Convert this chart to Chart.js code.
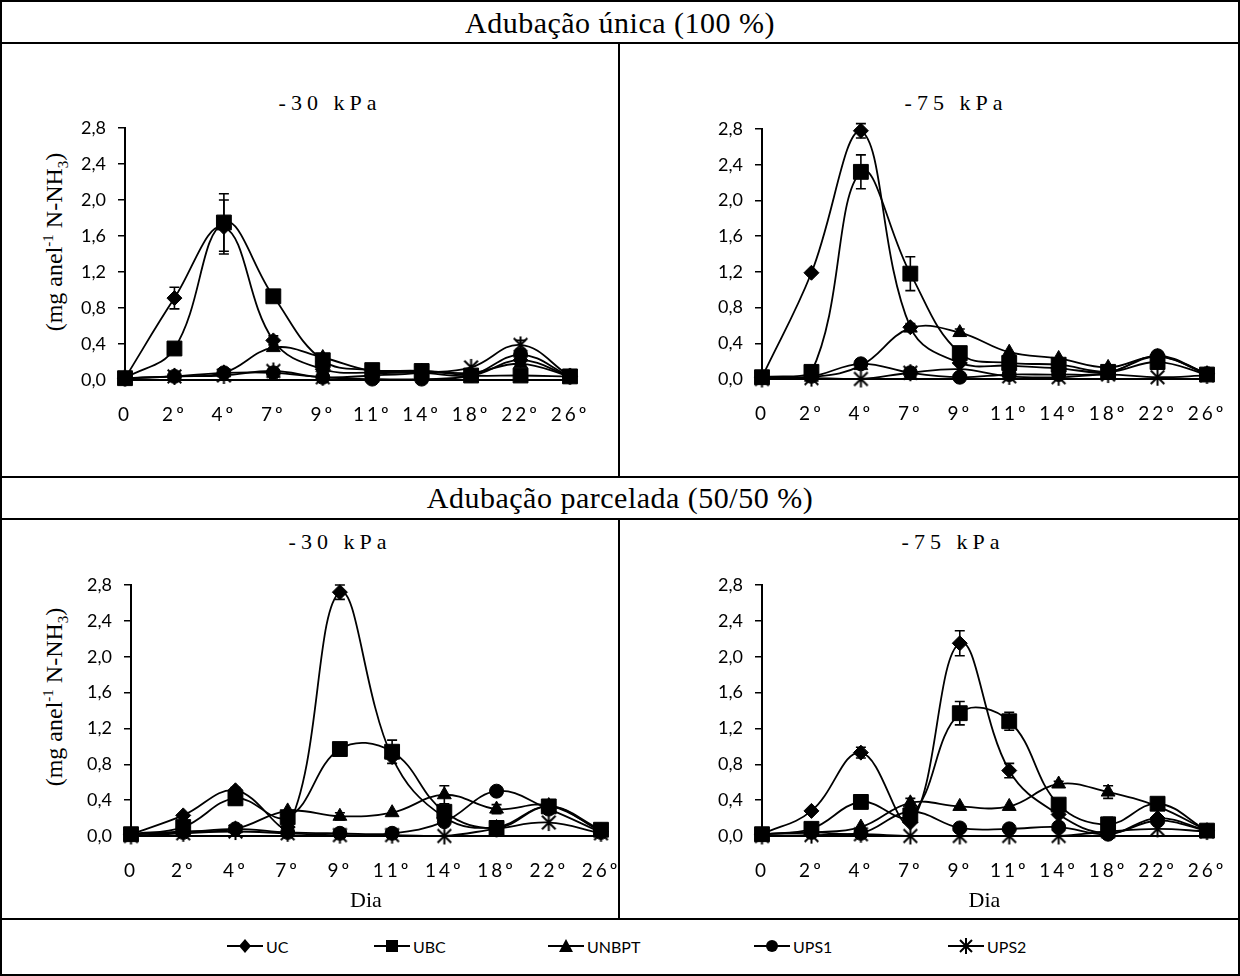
<!DOCTYPE html>
<html>
<head>
<meta charset="utf-8">
<script src="https://cdn.jsdelivr.net/npm/chart.js@4.4.1/dist/chart.umd.min.js"></script>
<style>
  body { margin: 0; background: #fff; }
  #fig { position: relative; width: 1240px; height: 976px; font-family: "Liberation Serif", serif; color: #000; }
  .frame { position: absolute; left: 0; top: 0; width: 1240px; height: 976px; border: 2px solid #000; box-sizing: border-box; }
  .ln { position: absolute; background: #000; }
  .head { position: absolute; left: 0; width: 1240px; text-align: center; font-size: 30px; line-height: 38px; letter-spacing: 0.5px; }
  .sub { position: absolute; font-size: 22px; letter-spacing: 5px; white-space: nowrap; transform: translate(-50%, -50%); }
  .ytitle { position: absolute; font-size: 24px; white-space: nowrap; transform: translate(-50%, -50%) rotate(-90deg); }
  .ytitle sup, .ytitle sub { font-size: 15px; }
  canvas { position: absolute; }
  .leg { position: absolute; top: 937px; height: 18px; display: flex; align-items: center; font-family: Lato, sans-serif; font-size: 16px; }
  .leg svg { margin-right: 3px; }
</style>
</head>
<body>
<div id="fig">
  <div class="frame"></div>
  <div class="ln" style="left:0;top:42px;width:1240px;height:2px"></div>
  <div class="ln" style="left:0;top:476px;width:1240px;height:2px"></div>
  <div class="ln" style="left:0;top:518px;width:1240px;height:2px"></div>
  <div class="ln" style="left:0;top:918px;width:1240px;height:2px"></div>
  <div class="ln" style="left:618px;top:42px;width:2px;height:436px"></div>
  <div class="ln" style="left:618px;top:518px;width:2px;height:402px"></div>

  <div class="head" style="top:4px">Adubação única (100 %)</div>
  <div class="head" style="top:479px">Adubação parcelada (50/50 %)</div>

  <div class="sub" style="left:330px;top:103px">-30 kPa</div>
  <div class="sub" style="left:956px;top:103px">-75 kPa</div>
  <div class="sub" style="left:340px;top:542px">-30 kPa</div>
  <div class="sub" style="left:953px;top:542px">-75 kPa</div>

  <div class="ytitle" style="left:56px;top:242px">(mg anel<sup>-1</sup> N-NH<sub>3</sub>)</div>
  <div class="ytitle" style="left:56px;top:697px">(mg anel<sup>-1</sup> N-NH<sub>3</sub>)</div>

  <canvas id="c1" width="630" height="400" style="left:3px;top:60px"></canvas>
  <canvas id="c2" width="616" height="400" style="left:621px;top:60px"></canvas>
  <canvas id="c3" width="630" height="385" style="left:3px;top:530px"></canvas>
  <canvas id="c4" width="616" height="385" style="left:621px;top:530px"></canvas>
  <div id="legend"></div>
</div>

<script>
const days = ['0', '2º', '4º', '7º', '9º', '11º', '14º', '18º', '22º', '26º'];
const yTickValues = [0, 0.4, 0.8, 1.2, 1.6, 2.0, 2.4, 2.8];
const yTickLabels = ['0,0', '0,4', '0,8', '1,2', '1,6', '2,0', '2,4', '2,8'];
const seriesNames = ['UC', 'UBC', 'UNBPT', 'UPS1', 'UPS2'];

// Adubação única (100 %), -30 kPa
const unica30UC    = [0.02, 0.91, 1.70, 0.44, 0.12, 0.08, 0.08, 0.05, 0.22, 0.04];
const unica30UBC   = [0.02, 0.35, 1.75, 0.93, 0.22, 0.11, 0.10, 0.05, 0.05, 0.04];
const unica30UNBPT = [0.02, 0.04, 0.08, 0.36, 0.25, 0.10, 0.10, 0.08, 0.18, 0.04];
const unica30UPS1  = [0.02, 0.04, 0.08, 0.08, 0.03, 0.01, 0.01, 0.05, 0.28, 0.04];
const unica30UPS2  = [0.02, 0.04, 0.05, 0.10, 0.03, 0.05, 0.08, 0.14, 0.39, 0.04];
const unica30UCErr  = [0, 0.12, 0.30, 0.05, 0, 0, 0, 0, 0.03, 0];
const unica30UBCErr = [0, 0, 0.32, 0, 0.05, 0, 0, 0, 0, 0];
const unica30UPS2Err = [0, 0, 0, 0, 0, 0, 0, 0, 0.05, 0];

// Adubação única (100 %), -75 kPa
const unica75UC    = [0.02, 1.19, 2.78, 0.58, 0.18, 0.15, 0.12, 0.08, 0.25, 0.06];
const unica75UBC   = [0.02, 0.08, 2.32, 1.18, 0.29, 0.18, 0.16, 0.08, 0.19, 0.05];
const unica75UNBPT = [0.02, 0.02, 0.15, 0.57, 0.52, 0.30, 0.23, 0.13, 0.25, 0.06];
const unica75UPS1  = [0.02, 0.03, 0.17, 0.07, 0.02, 0.05, 0.05, 0.07, 0.26, 0.06];
const unica75UPS2  = [0.00, 0.01, 0.00, 0.07, 0.11, 0.03, 0.02, 0.05, 0.02, 0.04];
const unica75UCErr    = [0, 0.02, 0.08, 0.04, 0, 0, 0, 0, 0, 0];
const unica75UBCErr   = [0, 0, 0.19, 0.19, 0, 0, 0, 0, 0, 0];
const unica75UNBPTErr = [0, 0, 0, 0, 0.04, 0, 0, 0, 0, 0];

// Adubação parcelada (50/50 %), -30 kPa
const parc30UC    = [0.02, 0.23, 0.51, 0.10, 2.72, 0.88, 0.21, 0.10, 0.33, 0.05];
const parc30UBC   = [0.02, 0.10, 0.42, 0.21, 0.97, 0.94, 0.27, 0.09, 0.33, 0.07];
const parc30UNBPT = [0.02, 0.05, 0.08, 0.28, 0.22, 0.26, 0.46, 0.30, 0.34, 0.06];
const parc30UPS1  = [0.02, 0.04, 0.08, 0.04, 0.03, 0.03, 0.16, 0.50, 0.30, 0.04];
const parc30UPS2  = [0.00, 0.03, 0.05, 0.03, 0.01, 0.01, 0.00, 0.08, 0.15, 0.03];
const parc30UCErr    = [0, 0, 0.03, 0, 0.08, 0, 0, 0, 0, 0];
const parc30UBCErr   = [0, 0, 0.07, 0, 0.05, 0.13, 0, 0, 0, 0];
const parc30UNBPTErr = [0, 0, 0, 0, 0.04, 0, 0.10, 0.05, 0, 0];

// Adubação parcelada (50/50 %), -75 kPa
const parc75UC    = [0.02, 0.28, 0.93, 0.15, 2.15, 0.73, 0.24, 0.03, 0.20, 0.06];
const parc75UBC   = [0.02, 0.08, 0.38, 0.23, 1.37, 1.28, 0.35, 0.13, 0.36, 0.06];
const parc75UNBPT = [0.02, 0.04, 0.10, 0.37, 0.33, 0.33, 0.58, 0.49, 0.33, 0.06];
const parc75UPS1  = [0.02, 0.04, 0.03, 0.27, 0.09, 0.08, 0.10, 0.02, 0.17, 0.06];
const parc75UPS2  = [0.00, 0.01, 0.02, 0.00, 0.00, 0.00, 0.00, 0.05, 0.08, 0.05];
const parc75UCErr    = [0, 0, 0.06, 0, 0.14, 0.08, 0, 0, 0, 0];
const parc75UBCErr   = [0, 0, 0, 0, 0.13, 0.10, 0, 0.08, 0, 0];
const parc75UNBPTErr = [0, 0, 0, 0.05, 0, 0, 0.03, 0.07, 0, 0];

// Excel style star: an X plus a vertical bar
function starMarker(size) {
  const c = document.createElement('canvas');
  c.width = c.height = size;
  const g = c.getContext('2d');
  const m = size / 2, r = size / 2 - 1, d = r * 0.8;
  g.strokeStyle = '#000';
  g.lineWidth = 2;
  g.beginPath();
  g.moveTo(m, m - r); g.lineTo(m, m + r);
  g.moveTo(m - d, m - d); g.lineTo(m + d, m + d);
  g.moveTo(m + d, m - d); g.lineTo(m - d, m + d);
  g.stroke();
  return c;
}
const markers = ['rectRot', 'rect', 'triangle', 'circle', starMarker(19)];
const radii = [7.5, 10.5, 8, 7, 9];

// error bars; x tick labels (layer z=1) get the wide letter spacing
const extras = {
  id: 'extras',
  beforeDraw(chart) { chart.ctx.letterSpacing = '0px'; },
  afterDatasetsDraw(chart) {
    const ctx = chart.ctx, y = chart.scales.y;
    ctx.save();
    ctx.strokeStyle = '#000';
    ctx.lineWidth = 1.6;
    chart.data.datasets.forEach((ds, di) => {
      if (!ds.errorBars) return;
      const meta = chart.getDatasetMeta(di);
      ds.errorBars.forEach((e, i) => {
        if (!e) return;
        const px = meta.data[i].x;
        const top = y.getPixelForValue(ds.data[i] + e);
        const bot = y.getPixelForValue(ds.data[i] - e);
        ctx.beginPath();
        ctx.moveTo(px, top); ctx.lineTo(px, bot);
        ctx.moveTo(px - 5, top); ctx.lineTo(px + 5, top);
        ctx.moveTo(px - 5, bot); ctx.lineTo(px + 5, bot);
        ctx.stroke();
      });
    });
    ctx.restore();
    ctx.letterSpacing = '3px';
  }
};

function panel(id, values, errors, geo, xTitle) {
  const datasets = seriesNames.map((name, i) => ({
    label: name,
    data: values[i],
    errorBars: errors[i],
    borderColor: '#000',
    borderWidth: 1.8,
    backgroundColor: '#000',
    pointStyle: markers[i],
    pointRadius: radii[i],
    pointBackgroundColor: '#000',
    pointBorderColor: '#000',
    pointBorderWidth: 1,
    tension: 0.4,
    clip: false,
    order: seriesNames.length - i
  }));

  new Chart(document.getElementById(id), {
    type: 'line',
    data: { labels: days, datasets: datasets },
    options: {
      responsive: false,
      animation: false,
      devicePixelRatio: 1,
      layout: { padding: { left: 0, top: geo.top, right: geo.right, bottom: 0 } },
      plugins: { legend: { display: false }, tooltip: { enabled: false } },
      scales: {
        x: {
          offset: false,
          grid: { display: false },
          border: { color: '#000', width: 2 },
          ticks: { color: '#000', font: { family: 'Lato', size: 19 }, padding: 15, maxRotation: 0, autoSkip: false, z: 1 },
          title: { display: !!xTitle, text: xTitle, color: '#000', font: { family: 'Liberation Serif', size: 22 }, padding: { top: 0, bottom: 1 } },
          afterFit: s => { s.height = geo.xh; }
        },
        y: {
          min: 0,
          max: 2.8,
          afterBuildTicks: s => { s.ticks = yTickValues.map(v => ({ value: v })); },
          grid: { drawOnChartArea: false, color: '#000', lineWidth: 1.5, tickLength: 7 },
          border: { color: '#000', width: 2 },
          ticks: { color: '#000', font: { family: 'Lato', size: 18 }, padding: 12, callback: (v, i) => yTickLabels[i] },
          afterFit: s => { s.width = geo.yw; }
        }
      }
    },
    plugins: [extras]
  });
}

panel('c1', [unica30UC, unica30UBC, unica30UNBPT, unica30UPS1, unica30UPS2],
      [unica30UCErr, unica30UBCErr, null, null, unica30UPS2Err],
      { yw: 122, top: 68, right: 63, xh: 80 }, '');
panel('c2', [unica75UC, unica75UBC, unica75UNBPT, unica75UPS1, unica75UPS2],
      [unica75UCErr, unica75UBCErr, unica75UNBPTErr, null, null],
      { yw: 141, top: 69, right: 30, xh: 81 }, '');
panel('c3', [parc30UC, parc30UBC, parc30UNBPT, parc30UPS1, parc30UPS2],
      [parc30UCErr, parc30UBCErr, parc30UNBPTErr, null, null],
      { yw: 128, top: 55, right: 32, xh: 79 }, 'Dia');
panel('c4', [parc75UC, parc75UBC, parc75UNBPT, parc75UPS1, parc75UPS2],
      [parc75UCErr, parc75UBCErr, parc75UNBPTErr, null, null],
      { yw: 141, top: 55, right: 30, xh: 79 }, 'Dia');

// legend
const legendLeft = [227, 374, 548, 754, 948];
const legendIcons = [
  '<polygon points="18,2 24,9 18,16 12,9"/>',
  '<rect x="12" y="3" width="12" height="12"/>',
  '<polygon points="18,2 25,15 11,15"/>',
  '<circle cx="18" cy="9" r="6"/>',
  '<path d="M18 1V17M12 3L24 15M24 3L12 15" stroke="#000" stroke-width="2" fill="none"/>'
];
const legend = document.getElementById('legend');
seriesNames.forEach((name, i) => {
  const item = document.createElement('div');
  item.className = 'leg';
  item.style.left = legendLeft[i] + 'px';
  item.innerHTML = '<svg width="36" height="18"><line x1="0" y1="9" x2="36" y2="9" stroke="#000" stroke-width="2"/>' +
    legendIcons[i] + '</svg><span>' + name + '</span>';
  legend.appendChild(item);
});
</script>
</body>
</html>
